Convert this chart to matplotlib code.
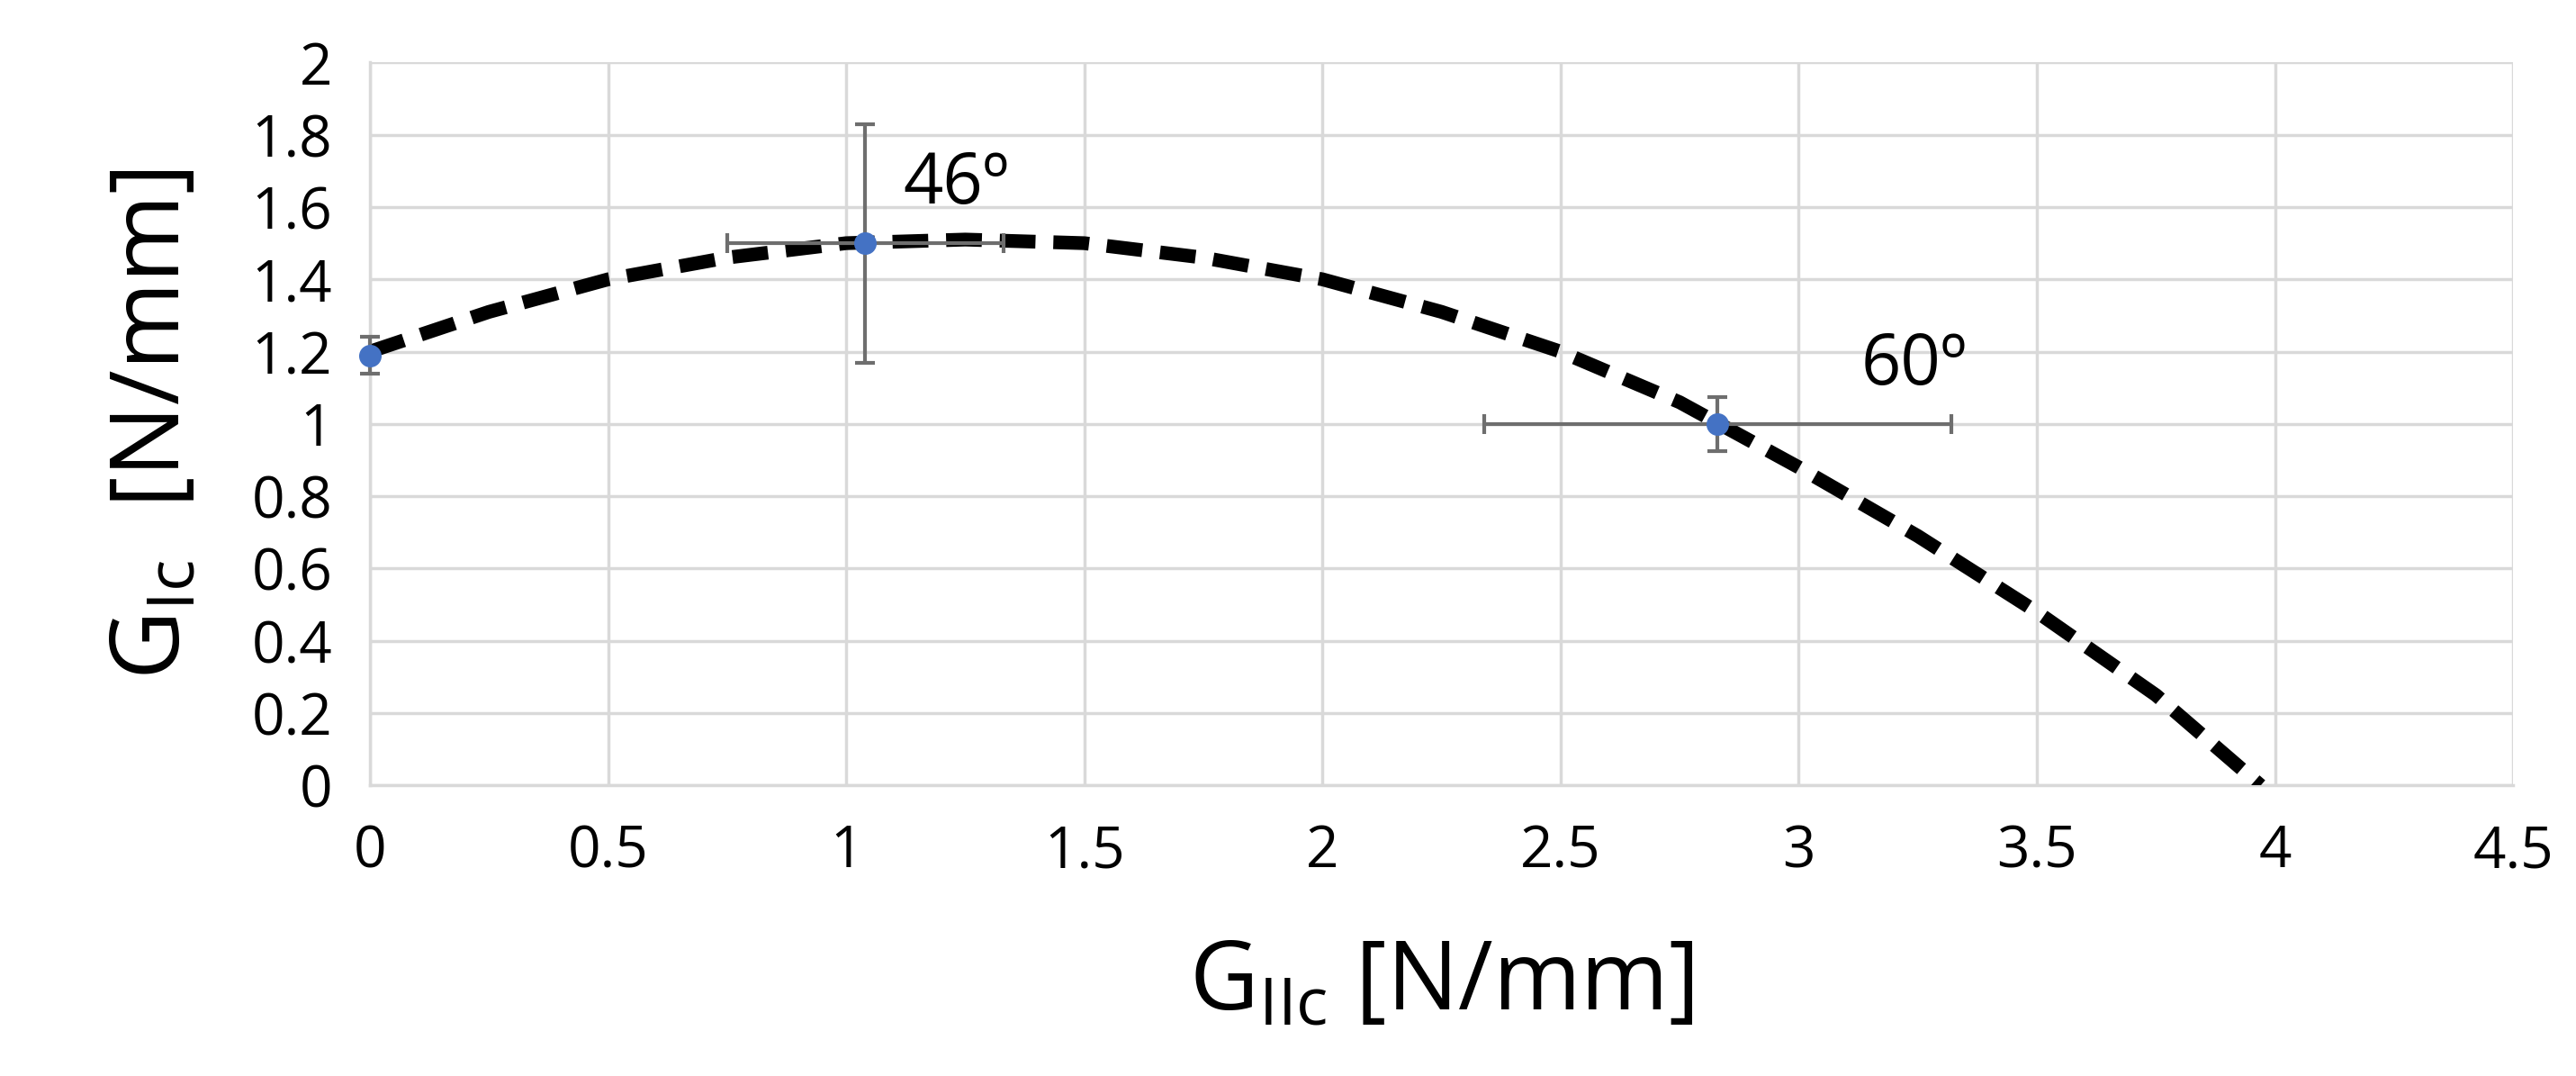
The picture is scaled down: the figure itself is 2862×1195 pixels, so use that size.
import numpy as np
import matplotlib.pyplot as plt

# measured points
gii = [0.0, 1.04, 2.83]
gi = [1.19, 1.50, 1.00]
gii_err = [0.0, 0.29, 0.49]
gi_err = [0.05, 0.33, 0.075]
labels = ["46º", "60º"]

# fitted criterion curve
curve_x = [0.0, 0.25, 0.5, 0.75, 1.0, 1.25, 1.5, 1.75, 2.0, 2.25, 2.5, 2.75, 3.0, 3.25, 3.5, 3.75, 3.97]
curve_y = [1.2, 1.31, 1.40, 1.46, 1.50, 1.51, 1.50, 1.46, 1.40, 1.31, 1.20, 1.06, 0.88, 0.69, 0.48, 0.25, 0.0]

plt.rcParams['font.family'] = ['Open Sans', 'DejaVu Sans']
fig = plt.figure(figsize=(28.62, 11.95), dpi=100)
ax = fig.add_axes([0.1436, 0.270, 0.832, 0.672])

ax.plot(curve_x, curve_y, color='black', lw=11, ls=(0, (2.6, 1.3)), zorder=3)
ax.errorbar(gii, gi, xerr=gii_err, yerr=gi_err, fmt='o', color='#4472c4', ms=17,
            ecolor='#6e6e6e', elinewidth=3, capsize=8, capthick=3, zorder=4, clip_on=False)
ax.text(1.12, 1.61, labels[0], fontsize=56)
ax.text(3.13, 1.11, labels[1], fontsize=56)

ax.set_xlim(0, 4.5)
ax.set_ylim(0, 2)
ax.set_xticks(np.arange(0, 4.51, 0.5))
ax.set_yticks(np.arange(0, 2.01, 0.2))
ax.set_xticklabels(['0', '0.5', '1', '1.5', '2', '2.5', '3', '3.5', '4', '4.5'])
ax.set_yticklabels(['0', '0.2', '0.4', '0.6', '0.8', '1', '1.2', '1.4', '1.6', '1.8', '2'])
ax.tick_params(labelsize=46, length=0, pad=30)
ax.grid(color='#d9d9d9', lw=2.5)
ax.set_axisbelow(True)
for s in ['top', 'right']:
    ax.spines[s].set_visible(False)
ax.spines['left'].set_color('#d9d9d9')
ax.spines['bottom'].set_color('#d9d9d9')
ax.spines['left'].set_linewidth(2.5)
ax.spines['bottom'].set_linewidth(2.5)

ax.set_xlabel(r'G$_{\mathregular{IIc}}$ [N/mm]', fontsize=76, labelpad=45)
ax.set_ylabel(r'G$_{\mathregular{Ic}}$  [N/mm]', fontsize=76, labelpad=40)

fig.savefig('out.png', dpi=100)
